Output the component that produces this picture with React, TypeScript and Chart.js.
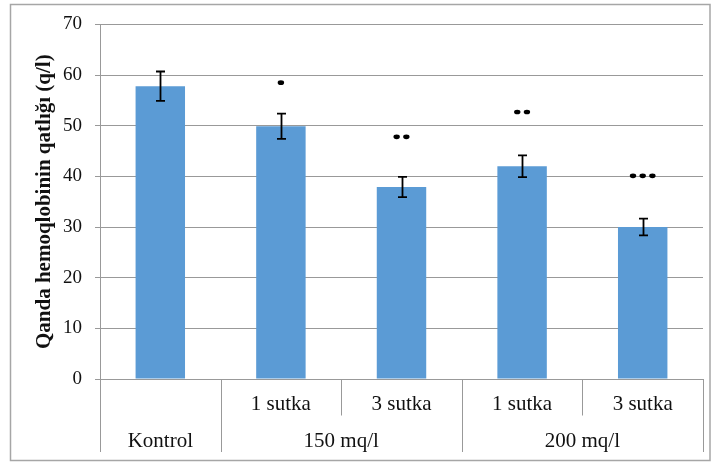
import React, { useEffect, useRef } from "react";
import { Chart, registerables } from "chart.js";

Chart.register(...registerables);

const subLabels = ["", "1 sutka", "3 sutka", "1 sutka", "3 sutka"];
const groupLabels = ["Kontrol", "150 mq/l", "200 mq/l"];
const groupSizes = [1, 2, 2];
const means = [57.8, 49.9, 37.9, 42.0, 30.0];
const errors = [2.9, 2.5, 2.0, 2.15, 1.65];
const markerCounts = [0, 1, 2, 2, 3];
const markerValues = [null, 58.5, 47.8, 52.7, 40.1];
const yTitle = "Qanda hemoqlobinin qatlığı (q/l)";
const yMin = 0;
const yMax = 70;
const yStep = 10;

const SERIF = "'Liberation Serif', 'Times New Roman', serif";
const GRID = "#999999";

const decorPlugin = {
  id: "decor",
  beforeDraw(chart: any) {
    const ctx = chart.ctx;
    ctx.save();
    ctx.strokeStyle = "#a6a6a6";
    ctx.lineWidth = 1.5;
    ctx.strokeRect(10.5, 4.5, 699.5, 456);
    ctx.restore();
  },
  afterDatasetsDraw(chart: any) {
    const ctx = chart.ctx;
    const x = chart.scales.x;
    const y = chart.scales.y;
    ctx.save();
    // error bars
    ctx.strokeStyle = "#000";
    ctx.lineWidth = 1.8;
    means.forEach((m, i) => {
      const cx = Math.round(x.getPixelForValue(i)) + 0.5;
      const top = y.getPixelForValue(m + errors[i]);
      const bot = y.getPixelForValue(m - errors[i]);
      ctx.beginPath();
      ctx.moveTo(cx, top);
      ctx.lineTo(cx, bot);
      ctx.moveTo(cx - 4.5, top);
      ctx.lineTo(cx + 4.5, top);
      ctx.moveTo(cx - 4.5, bot);
      ctx.lineTo(cx + 4.5, bot);
      ctx.stroke();
    });
    // significance markers
    ctx.fillStyle = "#000";
    markerCounts.forEach((n, i) => {
      const v = markerValues[i];
      if (!n || v == null) return;
      const cx = x.getPixelForValue(i);
      const cy = y.getPixelForValue(v);
      const sp = 9.7;
      for (let k = 0; k < n; k++) {
        const dx = cx + (k - (n - 1) / 2) * sp;
        ctx.beginPath();
        ctx.ellipse(dx, cy, 3.2, 2.3, 0, 0, Math.PI * 2);
        ctx.fill();
      }
    });
    ctx.restore();
  },
  afterDraw(chart: any) {
    const ctx = chart.ctx;
    const x = chart.scales.x;
    const area = chart.chartArea;
    const n = subLabels.length;
    const cw = (area.right - area.left) / n;
    const rowMid = 415.5;
    const tableBottom = 452;
    ctx.save();
    ctx.strokeStyle = GRID;
    ctx.lineWidth = 1;
    // boundaries
    const groupEnds = new Set<number>();
    let acc = 0;
    groupEnds.add(0);
    groupSizes.forEach((s) => {
      acc += s;
      groupEnds.add(acc);
    });
    for (let b = 0; b <= n; b++) {
      const bx = Math.round(area.left + b * cw) + 0.5;
      const full = groupEnds.has(b);
      ctx.beginPath();
      ctx.moveTo(bx, area.bottom);
      ctx.lineTo(bx, full ? tableBottom : rowMid);
      ctx.stroke();
    }
    // sub labels
    ctx.fillStyle = "#111";
    ctx.font = `21px ${SERIF}`;
    ctx.textAlign = "center";
    ctx.textBaseline = "alphabetic";
    subLabels.forEach((l, i) => {
      if (l) ctx.fillText(l, x.getPixelForValue(i), 410);
    });
    // group labels
    let start = 0;
    groupLabels.forEach((g, gi) => {
      const end = start + groupSizes[gi];
      const gx = area.left + ((start + end) / 2) * cw;
      ctx.fillText(g, gx, 447);
      start = end;
    });
    // y title
    ctx.save();
    ctx.translate(45, (area.top + area.bottom) / 2);
    ctx.rotate(-Math.PI / 2);
    ctx.font = `bold 21px ${SERIF}`;
    ctx.textBaseline = "middle";
    ctx.fillText(yTitle, 0, 0);
    ctx.restore();
    ctx.restore();
  },
};

export default function App() {
  const ref = useRef<HTMLCanvasElement | null>(null);
  useEffect(() => {
    document.body.style.margin = "0";
    const canvas = ref.current;
    if (!canvas) return;
    const chart = new Chart(canvas, {
      type: "bar",
      data: {
        labels: subLabels.map((s, i) => s || groupLabels[0] + i),
        datasets: [
          {
            data: means,
            backgroundColor: "#5B9BD5",
            borderWidth: 0,
            categoryPercentage: 1,
            barPercentage: 0.41,
          },
        ],
      },
      options: {
        responsive: false,
        animation: false,
        devicePixelRatio: 1,
        layout: { padding: { left: 0, right: 8, top: 23, bottom: 84 } },
        plugins: { legend: { display: false }, tooltip: { enabled: false } },
        scales: {
          x: { display: false },
          y: {
            min: yMin,
            max: yMax,
            afterFit: (s: any) => {
              s.width = 100;
            },
            ticks: {
              stepSize: yStep,
              padding: 13,
              color: "#111",
              font: { family: SERIF, size: 19 },
            },
            grid: { color: GRID, lineWidth: 1, tickLength: 5, drawTicks: true },
            border: { display: true, color: GRID, width: 1 },
          },
        },
      },
      plugins: [decorPlugin],
    });
    return () => chart.destroy();
  }, []);
  return (
    <div style={{ width: 711, height: 463, background: "#fff" }}>
      <canvas ref={ref} width={711} height={463} style={{ display: "block" }} />
    </div>
  );
}
